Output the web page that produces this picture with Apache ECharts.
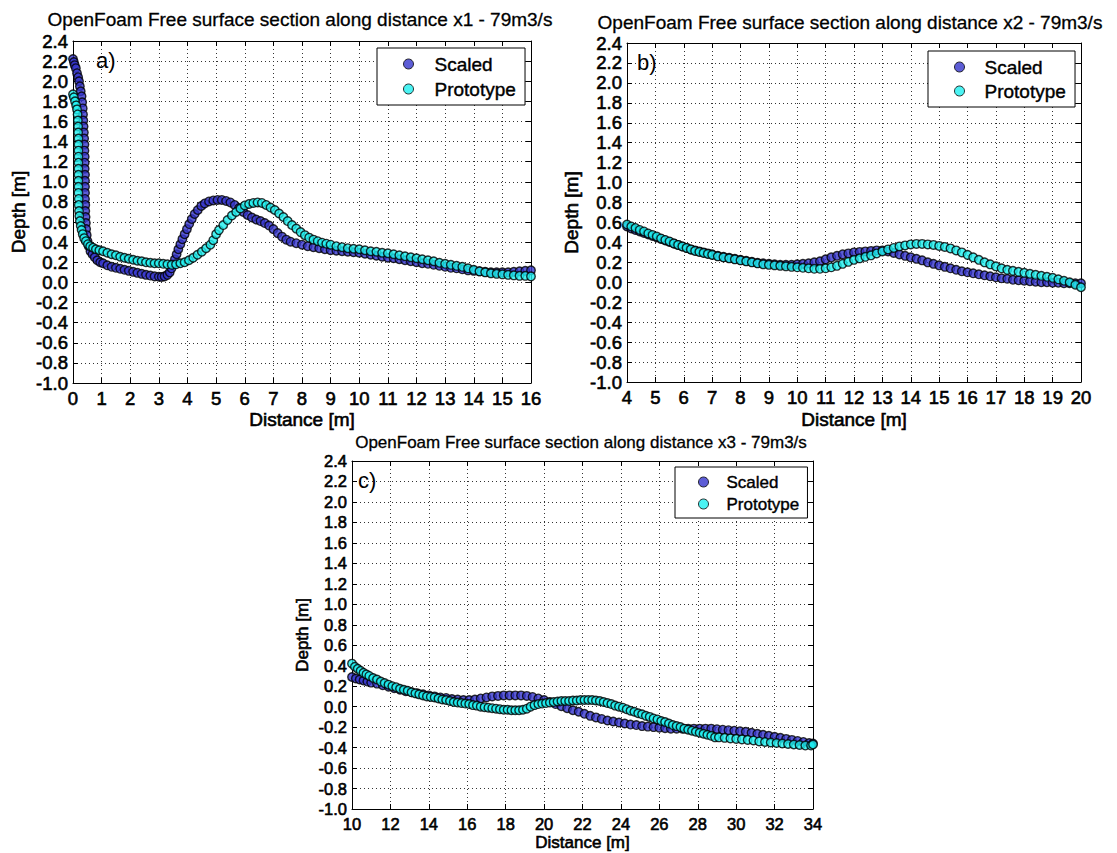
<!DOCTYPE html>
<html>
<head>
<meta charset="utf-8">
<title>OpenFoam free surface sections</title>
<script src="https://cdn.jsdelivr.net/npm/echarts@6/dist/echarts.min.js"></script>
<style>
  html, body { margin: 0; padding: 0; background: #fff; }
  #chart { width: 1117px; height: 853px; }
</style>
</head>
<body>
<div id="chart"></div>
<script>
// Free surface depth [m] against distance [m], three sections, two runs each.

const titles = [
  'OpenFoam Free surface section along distance x1 - 79m3/s',
  'OpenFoam Free surface section along distance x2 - 79m3/s',
  'OpenFoam Free surface section along distance x3 - 79m3/s'
];
const panelLabels = ['a)', 'b)', 'c)'];
const seriesNames = ['Scaled', 'Prototype'];
const xAxisName = 'Distance [m]';
const yAxisName = 'Depth [m]';

// Axis ranges [min, max, interval]
const xRanges = [[0, 16, 1], [4, 20, 1], [10, 34, 2]];
const yRange = [-1.0, 2.4, 0.2];

// Section x1
const scaledX1 = [
  [0.00,2.22],[0.03,2.19],[0.06,2.16],[0.10,2.13],[0.14,2.08],[0.18,2.04],[0.21,2.00],[0.24,1.95],
  [0.27,1.90],[0.30,1.85],[0.32,1.79],[0.34,1.73],[0.35,1.67],[0.36,1.61],[0.37,1.55],[0.38,1.49],
  [0.39,1.43],[0.40,1.37],[0.40,1.31],[0.41,1.25],[0.41,1.19],[0.41,1.13],[0.42,1.07],[0.42,1.01],
  [0.42,0.95],[0.42,0.89],[0.42,0.83],[0.43,0.77],[0.43,0.71],[0.44,0.65],[0.45,0.59],[0.46,0.53],
  [0.48,0.47],[0.51,0.41],[0.55,0.36],[0.61,0.31],[0.68,0.28],[0.76,0.25],[0.85,0.22],[0.95,0.20],
  [1.05,0.19],[1.20,0.17],[1.35,0.155],[1.50,0.145],[1.65,0.135],[1.80,0.125],[1.95,0.115],[2.10,0.105],
  [2.25,0.095],[2.40,0.085],[2.55,0.075],[2.70,0.068],[2.85,0.06],[3.00,0.056],[3.10,0.055],[3.20,0.06],
  [3.30,0.075],[3.38,0.10],[3.44,0.14],[3.50,0.18],[3.56,0.23],[3.62,0.28],[3.68,0.33],[3.75,0.38],
  [3.82,0.43],[3.90,0.48],[3.98,0.53],[4.06,0.58],[4.15,0.63],[4.25,0.68],[4.36,0.72],[4.48,0.76],
  [4.60,0.785],[4.75,0.805],[4.90,0.815],[5.05,0.82],[5.20,0.82],[5.35,0.81],[5.50,0.795],[5.65,0.77],
  [5.80,0.74],[5.95,0.70],[6.10,0.67],[6.25,0.645],[6.40,0.625],[6.55,0.61],[6.70,0.59],[6.85,0.565],
  [7.00,0.53],[7.15,0.49],[7.30,0.455],[7.45,0.425],[7.60,0.405],[7.80,0.39],[8.00,0.375],[8.20,0.36],
  [8.40,0.35],[8.60,0.34],[8.80,0.33],[9.00,0.32],[9.20,0.315],[9.40,0.31],[9.60,0.305],[9.80,0.30],
  [10.0,0.295],[10.2,0.285],[10.4,0.275],[10.6,0.265],[10.8,0.255],[11.0,0.245],[11.2,0.24],[11.4,0.23],
  [11.6,0.22],[11.8,0.21],[12.0,0.20],[12.2,0.19],[12.4,0.185],[12.6,0.175],[12.8,0.165],[13.0,0.155],
  [13.2,0.145],[13.4,0.14],[13.6,0.13],[13.8,0.12],[14.0,0.115],[14.2,0.11],[14.4,0.105],[14.6,0.10],
  [14.8,0.10],[15.0,0.10],[15.2,0.10],[15.4,0.105],[15.6,0.11],[15.8,0.115],[16.0,0.12]
];
const prototypeX1 = [
  [0.00,1.87],[0.03,1.84],[0.07,1.80],[0.11,1.76],[0.14,1.72],[0.16,1.67],[0.17,1.61],[0.18,1.55],
  [0.18,1.49],[0.19,1.43],[0.19,1.37],[0.19,1.31],[0.19,1.25],[0.19,1.19],[0.19,1.13],[0.19,1.07],
  [0.19,1.01],[0.19,0.95],[0.19,0.89],[0.20,0.83],[0.20,0.77],[0.21,0.71],[0.22,0.66],[0.24,0.61],
  [0.27,0.56],[0.30,0.52],[0.34,0.48],[0.39,0.44],[0.45,0.41],[0.52,0.38],[0.60,0.36],[0.70,0.345],
  [0.80,0.33],[0.92,0.32],[1.05,0.31],[1.20,0.295],[1.35,0.28],[1.50,0.27],[1.65,0.255],[1.80,0.245],
  [1.95,0.235],[2.10,0.225],[2.25,0.215],[2.40,0.21],[2.55,0.20],[2.70,0.195],[2.85,0.19],[3.00,0.19],
  [3.15,0.185],[3.30,0.18],[3.45,0.175],[3.60,0.18],[3.75,0.19],[3.90,0.20],[4.05,0.22],[4.20,0.245],
  [4.35,0.275],[4.50,0.305],[4.65,0.34],[4.80,0.375],[4.90,0.42],[5.00,0.48],[5.10,0.52],[5.25,0.57],
  [5.40,0.62],[5.55,0.665],[5.70,0.70],[5.85,0.735],[6.00,0.765],[6.15,0.78],[6.30,0.79],[6.45,0.795],
  [6.60,0.79],[6.75,0.77],[6.90,0.745],[7.05,0.72],[7.20,0.685],[7.35,0.65],[7.50,0.61],[7.65,0.57],
  [7.80,0.535],[7.95,0.50],[8.10,0.47],[8.25,0.445],[8.40,0.425],[8.55,0.41],[8.70,0.395],[8.85,0.385],
  [9.00,0.375],[9.20,0.36],[9.40,0.35],[9.60,0.34],[9.80,0.335],[10.0,0.33],[10.2,0.32],[10.4,0.31],
  [10.6,0.305],[10.8,0.295],[11.0,0.29],[11.2,0.28],[11.4,0.27],[11.6,0.26],[11.8,0.25],[12.0,0.24],
  [12.2,0.23],[12.4,0.22],[12.6,0.21],[12.8,0.195],[13.0,0.185],[13.2,0.175],[13.4,0.165],[13.6,0.155],
  [13.8,0.14],[14.0,0.125],[14.2,0.11],[14.4,0.10],[14.6,0.09],[14.8,0.085],[15.0,0.08],[15.2,0.075],
  [15.4,0.07],[15.6,0.065],[15.8,0.065],[16.0,0.06]
];

// Section x2
const scaledX2 = [
  [4.00,0.56],[4.15,0.54],[4.30,0.525],[4.45,0.51],[4.60,0.495],[4.75,0.48],[4.90,0.465],[5.05,0.45],
  [5.20,0.435],[5.35,0.42],[5.50,0.405],[5.65,0.39],[5.80,0.375],[5.95,0.36],[6.10,0.345],[6.25,0.33],
  [6.40,0.32],[6.55,0.31],[6.70,0.30],[6.85,0.29],[7.00,0.28],[7.20,0.265],[7.40,0.255],[7.60,0.245],
  [7.80,0.235],[8.00,0.225],[8.20,0.215],[8.40,0.205],[8.60,0.195],[8.80,0.19],[9.00,0.185],[9.20,0.18],
  [9.40,0.175],[9.60,0.175],[9.80,0.175],[10.0,0.18],[10.2,0.185],[10.4,0.19],[10.6,0.20],[10.8,0.21],
  [11.0,0.23],[11.2,0.25],[11.4,0.265],[11.6,0.28],[11.8,0.29],[12.0,0.30],[12.2,0.305],[12.4,0.31],
  [12.6,0.315],[12.8,0.32],[13.0,0.32],[13.2,0.31],[13.4,0.295],[13.6,0.28],[13.8,0.265],[14.0,0.25],
  [14.2,0.235],[14.4,0.22],[14.6,0.20],[14.8,0.185],[15.0,0.17],[15.2,0.155],[15.4,0.14],[15.6,0.125],
  [15.8,0.11],[16.0,0.10],[16.2,0.09],[16.4,0.08],[16.6,0.07],[16.8,0.06],[17.0,0.05],[17.2,0.04],
  [17.4,0.035],[17.6,0.025],[17.8,0.02],[18.0,0.015],[18.2,0.01],[18.4,0.005],[18.6,0.0],[18.8,0.0],
  [19.0,-0.005],[19.2,-0.005],[19.4,-0.01],[19.6,-0.01],[19.8,-0.01],[20.0,-0.01]
];
const prototypeX2 = [
  [4.00,0.58],[4.15,0.56],[4.30,0.545],[4.45,0.525],[4.60,0.51],[4.75,0.49],[4.90,0.475],[5.05,0.46],
  [5.20,0.44],[5.35,0.425],[5.50,0.41],[5.65,0.39],[5.80,0.375],[5.95,0.36],[6.10,0.345],[6.25,0.33],
  [6.40,0.315],[6.55,0.305],[6.70,0.295],[6.85,0.285],[7.00,0.275],[7.20,0.26],[7.40,0.25],[7.60,0.24],
  [7.80,0.23],[8.00,0.22],[8.20,0.21],[8.40,0.20],[8.60,0.19],[8.80,0.18],[9.00,0.175],[9.20,0.17],
  [9.40,0.165],[9.60,0.16],[9.80,0.155],[10.0,0.15],[10.2,0.145],[10.4,0.14],[10.6,0.135],[10.8,0.135],
  [11.0,0.14],[11.2,0.15],[11.4,0.165],[11.6,0.185],[11.8,0.205],[12.0,0.225],[12.2,0.24],[12.4,0.255],
  [12.6,0.27],[12.8,0.29],[13.0,0.31],[13.2,0.33],[13.4,0.345],[13.6,0.36],[13.8,0.37],[14.0,0.38],
  [14.2,0.385],[14.4,0.385],[14.6,0.38],[14.8,0.375],[15.0,0.365],[15.2,0.355],[15.4,0.34],[15.6,0.32],
  [15.8,0.30],[16.0,0.275],[16.2,0.25],[16.4,0.225],[16.6,0.20],[16.8,0.18],[17.0,0.16],[17.2,0.14],
  [17.4,0.125],[17.6,0.115],[17.8,0.105],[18.0,0.095],[18.2,0.085],[18.4,0.075],[18.6,0.065],[18.8,0.055],
  [19.0,0.045],[19.2,0.03],[19.4,0.015],[19.6,0.0],[19.8,-0.025],[20.0,-0.05]
];

// Section x3
const scaledX3 = [
  [10.0,0.29],[10.2,0.275],[10.4,0.265],[10.6,0.255],[10.8,0.245],[11.0,0.235],[11.3,0.225],[11.6,0.21],
  [11.9,0.195],[12.2,0.18],[12.5,0.165],[12.8,0.15],[13.1,0.14],[13.4,0.13],[13.7,0.12],[14.0,0.11],
  [14.3,0.10],[14.6,0.09],[14.9,0.085],[15.2,0.075],[15.5,0.07],[15.8,0.065],[16.1,0.065],[16.4,0.07],
  [16.7,0.08],[17.0,0.09],[17.3,0.10],[17.6,0.105],[17.9,0.11],[18.2,0.11],[18.5,0.11],[18.8,0.11],
  [19.1,0.105],[19.4,0.095],[19.7,0.08],[20.0,0.065],[20.3,0.045],[20.6,0.025],[20.9,0.005],[21.2,-0.015],
  [21.5,-0.035],[21.8,-0.05],[22.1,-0.07],[22.4,-0.09],[22.7,-0.105],[23.0,-0.12],[23.3,-0.135],[23.6,-0.145],
  [23.9,-0.155],[24.2,-0.165],[24.5,-0.175],[24.8,-0.18],[25.1,-0.19],[25.4,-0.195],[25.7,-0.20],[26.0,-0.205],
  [26.3,-0.21],[26.6,-0.215],[26.9,-0.215],[27.2,-0.215],[27.5,-0.215],[27.8,-0.215],[28.1,-0.215],[28.4,-0.215],
  [28.7,-0.215],[29.0,-0.22],[29.3,-0.225],[29.6,-0.23],[29.9,-0.235],[30.2,-0.24],[30.5,-0.245],[30.8,-0.255],
  [31.1,-0.265],[31.4,-0.275],[31.7,-0.285],[32.0,-0.295],[32.3,-0.305],[32.6,-0.315],[32.9,-0.325],[33.2,-0.335],
  [33.5,-0.345],[33.8,-0.355],[34.0,-0.36]
];
const prototypeX3 = [
  [10.0,0.42],[10.15,0.39],[10.3,0.37],[10.45,0.35],[10.6,0.33],[10.75,0.315],[10.9,0.30],[11.1,0.28],
  [11.3,0.265],[11.5,0.245],[11.7,0.23],[11.9,0.215],[12.1,0.20],[12.3,0.19],[12.5,0.175],[12.7,0.165],
  [12.9,0.155],[13.1,0.14],[13.3,0.13],[13.5,0.12],[13.7,0.11],[13.9,0.10],[14.1,0.095],[14.3,0.09],
  [14.5,0.08],[14.7,0.07],[14.9,0.065],[15.1,0.055],[15.3,0.045],[15.5,0.04],[15.7,0.035],[15.9,0.03],
  [16.1,0.025],[16.3,0.015],[16.5,0.01],[16.7,0.0],[16.9,-0.005],[17.1,-0.01],[17.3,-0.015],[17.5,-0.02],
  [17.7,-0.025],[17.9,-0.03],[18.1,-0.03],[18.3,-0.035],[18.5,-0.035],[18.7,-0.035],[18.9,-0.03],[19.1,-0.02],
  [19.3,0.0],[19.5,0.015],[19.7,0.025],[19.9,0.03],[20.1,0.035],[20.3,0.04],[20.5,0.045],[20.7,0.05],
  [20.9,0.055],[21.1,0.055],[21.3,0.055],[21.5,0.06],[21.7,0.06],[21.9,0.065],[22.1,0.065],[22.3,0.065],
  [22.5,0.065],[22.7,0.06],[22.9,0.055],[23.1,0.045],[23.3,0.035],[23.5,0.025],[23.7,0.01],[23.9,0.0],
  [24.1,-0.01],[24.3,-0.025],[24.5,-0.04],[24.7,-0.05],[24.9,-0.065],[25.1,-0.075],[25.3,-0.09],[25.5,-0.10],
  [25.7,-0.115],[25.9,-0.125],[26.1,-0.14],[26.3,-0.15],[26.5,-0.165],[26.7,-0.18],[26.9,-0.19],[27.1,-0.20],
  [27.3,-0.215],[27.5,-0.225],[27.7,-0.235],[27.9,-0.245],[28.1,-0.255],[28.3,-0.265],[28.5,-0.275],[28.7,-0.285],
  [28.9,-0.30],[29.1,-0.30],[29.4,-0.305],[29.7,-0.31],[30.0,-0.315],[30.3,-0.32],[30.6,-0.325],[30.9,-0.33],
  [31.2,-0.34],[31.5,-0.345],[31.8,-0.35],[32.1,-0.355],[32.4,-0.36],[32.7,-0.365],[33.0,-0.37],[33.3,-0.375],
  [33.6,-0.38],[33.9,-0.38],[34.0,-0.37]
];

const sections = [
  { scaled: scaledX1, prototype: prototypeX1 },
  { scaled: scaledX2, prototype: prototypeX2 },
  { scaled: scaledX3, prototype: prototypeX3 }
];

const FONT = '"Liberation Sans", Arial, Helvetica, sans-serif';
const SCALED_COLOR = '#3434cc';
const PROTO_COLOR = '#1ef0f0';

// Per-panel layout: plot box, text sizes and legend placement
const panels = [
  { left: 73, top: 41, width: 458, height: 342, fs: 19, tfs: 18.5,
    title: { x: 300, y: 19 }, label: { x: 96, y: 60 },
    xGap: 27, yGap: 45,
    legend: { left: 377, top: 48, pad: [6, 9, 6, 26], textPad: 16, gap: 5, lh: 20 } },
  { left: 627, top: 43, width: 454, height: 339, fs: 19, tfs: 18.5,
    title: { x: 850, y: 22 }, label: { x: 637, y: 62 },
    xGap: 28, yGap: 46,
    legend: { left: 928, top: 51, pad: [6, 9, 6, 26], textPad: 15, gap: 4, lh: 20 } },
  { left: 352, top: 461, width: 461, height: 348, fs: 17, tfs: 16.5,
    title: { x: 581, y: 442 }, label: { x: 358, y: 480 },
    xGap: 24, yGap: 41,
    legend: { left: 675, top: 467, pad: [6, 8, 5, 23], textPad: 13, gap: 4, lh: 18 } }
];

// slightly heavier strokes on axis text
const HEAVY = { textBorderColor: '#000', textBorderWidth: 0.6 };

function yLabel(v) {
  if (Math.abs(v) < 1e-9) return '0.0';
  return v.toFixed(1);
}

const grid = [], xAxis = [], yAxis = [], series = [], legend = [], graphic = [];

panels.forEach((p, i) => {
  grid.push({ left: p.left, top: p.top, width: p.width, height: p.height, containLabel: false });

  const lineStyle = { color: '#000', width: 1 };
  const tick = { show: true, inside: true, length: 5, lineStyle: { color: '#000', width: 1 } };
  const split = { show: true, lineStyle: { color: '#333', width: 1, type: [1, 3] } };
  const [xmin, xmax, xint] = xRanges[i];

  // bottom axis with labels, top axis for the box and inner ticks
  xAxis.push({
    type: 'value', gridIndex: i, position: 'bottom', min: xmin, max: xmax, interval: xint,
    axisLine: { show: true, onZero: false, lineStyle }, axisTick: tick, splitLine: split,
    axisLabel: Object.assign({ color: '#000', fontSize: p.tfs, fontFamily: FONT, margin: 6 }, HEAVY),
    name: xAxisName, nameLocation: 'middle', nameGap: p.xGap,
    nameTextStyle: Object.assign({ color: '#000', fontSize: p.fs, fontFamily: FONT }, HEAVY)
  });
  xAxis.push({
    type: 'value', gridIndex: i, position: 'top', min: xmin, max: xmax, interval: xint,
    axisLine: { show: true, onZero: false, lineStyle }, axisTick: tick,
    splitLine: { show: false }, axisLabel: { show: false }
  });
  yAxis.push({
    type: 'value', gridIndex: i, position: 'left', min: yRange[0], max: yRange[1], interval: yRange[2],
    axisLine: { show: true, onZero: false, lineStyle }, axisTick: tick, splitLine: split,
    axisLabel: Object.assign({ color: '#000', fontSize: p.tfs, fontFamily: FONT, margin: 5, formatter: yLabel }, HEAVY),
    name: yAxisName, nameLocation: 'middle', nameGap: p.yGap,
    nameTextStyle: Object.assign({ color: '#000', fontSize: p.fs, fontFamily: FONT }, HEAVY)
  });
  yAxis.push({
    type: 'value', gridIndex: i, position: 'right', min: yRange[0], max: yRange[1], interval: yRange[2],
    axisLine: { show: true, onZero: false, lineStyle }, axisTick: tick,
    splitLine: { show: false }, axisLabel: { show: false }
  });

  const marker = (color) => ({ color, borderColor: '#000', borderWidth: 1.4 });
  series.push({
    name: seriesNames[0], type: 'scatter', xAxisIndex: 2 * i, yAxisIndex: 2 * i,
    data: sections[i].scaled, symbol: 'circle', symbolSize: 8.5, itemStyle: marker(SCALED_COLOR),
    silent: true, z: 2
  });
  series.push({
    name: seriesNames[1], type: 'scatter', xAxisIndex: 2 * i, yAxisIndex: 2 * i,
    data: sections[i].prototype, symbol: 'circle', symbolSize: 8.5, itemStyle: marker(PROTO_COLOR),
    silent: true, z: 3
  });

  const L = p.legend;
  legend.push({
    data: seriesNames, orient: 'vertical', left: L.left, top: L.top,
    padding: L.pad, itemGap: L.gap, itemWidth: 10, itemHeight: 10, icon: 'circle',
    backgroundColor: '#fff', borderColor: '#000', borderWidth: 1, borderRadius: 0,
    selectedMode: false,
    itemStyle: { borderWidth: 1 },
    textStyle: Object.assign({ color: '#000', fontSize: p.fs, fontFamily: FONT, lineHeight: L.lh,
                 padding: [0, 0, 0, L.textPad] }, { textBorderColor: '#000', textBorderWidth: 0.4 })
  });

  graphic.push({
    type: 'text', x: p.title.x, y: p.title.y, z: 10,
    style: { text: titles[i], fill: '#000', fontSize: p.fs, fontFamily: FONT,
             stroke: '#000', lineWidth: 0.3,
             align: 'center', verticalAlign: 'middle', textAlign: 'center', textVerticalAlign: 'middle' }
  });
  graphic.push({
    type: 'text', x: p.label.x, y: p.label.y, z: 10,
    style: { text: panelLabels[i], fill: '#000', fontSize: 22, fontFamily: FONT,
             align: 'left', verticalAlign: 'middle', textAlign: 'left', textVerticalAlign: 'middle' }
  });
});

const chart = echarts.init(document.getElementById('chart'), null, { renderer: 'svg' });
chart.setOption({
  backgroundColor: '#fff',
  animation: false,
  grid, xAxis, yAxis, series, legend, graphic
});
</script>
</body>
</html>
